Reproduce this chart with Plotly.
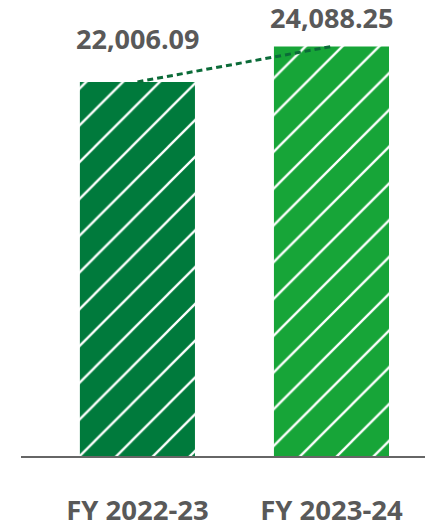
import plotly.graph_objects as go

# Data
categories = ["FY 2022-23", "FY 2023-24"]
values = [22006.09, 24088.25]
value_labels = ["22,006.09", "24,088.25"]

# Styles
bar_colors = ["#007A3C", "#17A538"]
label_yshift = [43, 29]
text_color = "#595959"
font_family = "Open Sans"

fig = go.Figure()

fig.add_trace(go.Bar(
    x=categories,
    y=values,
    width=0.593,
    marker=dict(
        color=bar_colors,
        line=dict(width=0),
        pattern=dict(shape="/", fgcolor="#ffffff", fgopacity=1,
                     size=26, solidity=0.09),
    ),
    hoverinfo="skip",
))

# Dashed trend line connecting the bar tops
fig.add_trace(go.Scatter(
    x=categories,
    y=values,
    mode="lines",
    line=dict(color="#0B6B38", width=3, dash="6px,4px"),
    hoverinfo="skip",
))

for cat, val, txt, ys in zip(categories, values, value_labels, label_yshift):
    fig.add_annotation(
        x=cat, y=val, text=f"<b>{txt}</b>", showarrow=False,
        yanchor="middle", yshift=ys,
        font=dict(family=font_family, size=27, color=text_color),
    )

fig.update_layout(
    width=425, height=528,
    margin=dict(l=21, r=0, t=0, b=67),
    paper_bgcolor="white", plot_bgcolor="white",
    showlegend=False,
    xaxis=dict(
        range=[-0.6, 1.482],
        showline=True, linecolor="#666666", linewidth=2,
        showgrid=False, zeroline=False, ticks="",
        tickfont=dict(family=font_family, size=27.5, color=text_color, weight="bold"),
        ticklabelstandoff=29,
    ),
    yaxis=dict(
        range=[0, 26823], visible=False, showgrid=False, zeroline=False,
    ),
)

fig.write_html("out.html")
